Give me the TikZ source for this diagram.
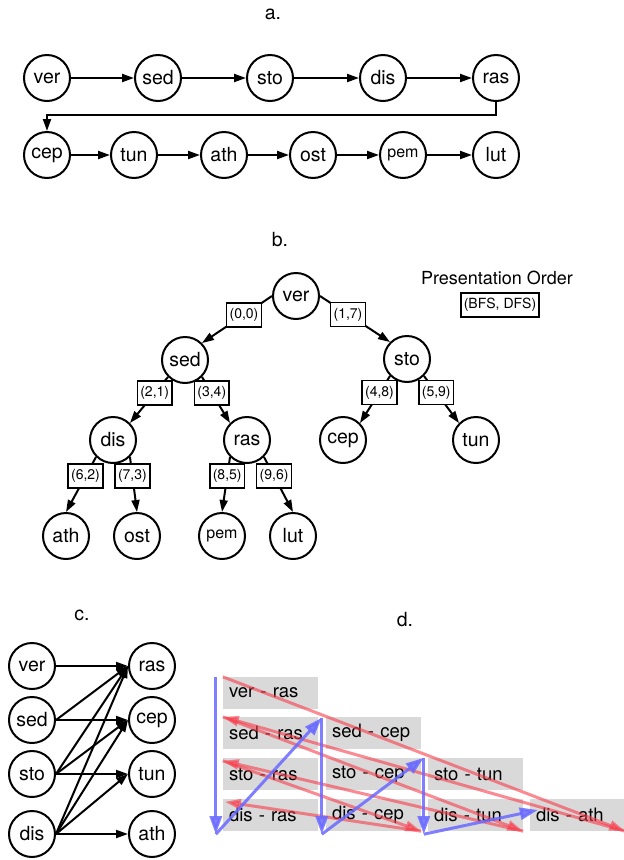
\documentclass[tikz,border=0pt]{standalone}
\usepackage{fontspec}
\setmainfont{TeX Gyre Heros}
\usepackage{xcolor}
\usepackage{tikz}
\usetikzlibrary{arrows.meta,calc}

\definecolor{pairgrey}{RGB}{217,217,217}
\definecolor{pathblue}{RGB}{105,105,255}
\definecolor{pathred}{RGB}{250,60,75}

\tikzset{
  word/.style={circle, draw, line width=2pt, minimum size=46pt, inner sep=0pt, font=\fontsize{19.5}{19.5}\selectfont},
  smallword/.style={word, font=\fontsize{16}{16}\selectfont},
  link/.style={line width=2pt, -{Triangle[length=12pt,width=8pt]}},
  order/.style={draw, fill=white, line width=1.5pt, inner xsep=3pt, inner ysep=0pt, minimum height=24pt, font=\fontsize{14}{14}\selectfont},
  pair/.style={fill=pairgrey, minimum height=32pt, text width=83pt, inner xsep=6pt, inner ysep=0pt, align=left, font=\fontsize{18.5}{18.5}\selectfont},
  title/.style={font=\fontsize{19.5}{19.5}\selectfont},
  bluepath/.style={color=pathblue, opacity=.85, line width=3pt, -{Triangle[length=18pt,width=12pt]}},
  redpath/.style={color=pathred, opacity=.6, line width=3pt, -{Triangle[length=16pt,width=10pt]}}
}

\begin{document}
\begin{tikzpicture}[x=1pt, y=-1pt]
\useasboundingbox (0,0) rectangle (624,860);

% a.
\node[title] (ta) at (273,14) {a.};
\node[word] (aver) at (47,78) {ver};
\node[word] (ased) at (158,78) {sed};
\node[word] (asto) at (270,78) {sto};
\node[word] (adis) at (383,78) {dis};
\node[word] (aras) at (496,78) {ras};
\node[word] (acep) at (47,155) {cep};
\node[word] (atun) at (134,155) {tun};
\node[word] (aath) at (224,155) {ath};
\node[word] (aost) at (313,155) {ost};
\node[smallword] (apem) at (403,155) {pem};
\node[word] (alut) at (496,155) {lut};

\draw[link] (aver) -- (ased);
\draw[link] (ased) -- (asto);
\draw[link] (asto) -- (adis);
\draw[link] (adis) -- (aras);
\draw[link] (aras.south) -- ++(0,13) -| (acep.north);
\draw[link] (acep) -- (atun);
\draw[link] (atun) -- (aath);
\draw[link] (aath) -- (aost);
\draw[link] (aost) -- (apem);
\draw[link] (apem) -- (alut);

% b.
\node[title] (tb) at (280,240) {b.};
\node[font=\fontsize{18}{18}\selectfont] (keyname) at (497,278) {Presentation Order};
\node[order, font=\fontsize{14}{14}\selectfont] (key) at (500,305) {(BFS, DFS)};

\node[word] (bver) at (296,296) {ver};
\node[word] (bsed) at (185,360) {sed};
\node[word] (bsto) at (407,359) {sto};
\node[word] (bdis) at (113,440) {dis};
\node[word] (bras) at (247,440) {ras};
\node[word] (bcep) at (343,440) {cep};
\node[word] (btun) at (476,440) {tun};
\node[word] (bath) at (66,536) {ath};
\node[word] (bost) at (137,536) {ost};
\node[smallword] (bpem) at (222,536) {pem};
\node[word] (blut) at (293,536) {lut};

\draw[link] (bver.west) -- node[order, pos=.4] {(0,0)} (bsed.north east);
\draw[link] (bver.east) -- node[order, pos=.4] {(1,7)} (bsto.north west);
\draw[link] (bsed.south west) -- node[order, pos=.35] {(2,1)} (bdis.north east);
\draw[link] (bsed.south east) -- node[order, pos=.35] {(3,4)} (bras.north west);
\draw[link] (bsto.south west) -- node[order, pos=.35] {(4,8)} (bcep.north east);
\draw[link] (bsto.south east) -- node[order, pos=.35] {(5,9)} (btun.north west);
\draw[link] (bdis.south west) -- node[order, pos=.35] {(6,2)} (bath.north);
\draw[link] (bdis.south east) -- node[order, pos=.35] {(7,3)} (bost.north);
\draw[link] (bras.south west) -- node[order, pos=.35] {(8,5)} (bpem.north);
\draw[link] (bras.south east) -- node[order, pos=.35] {(9,6)} (blut.north);

% c.
\node[title] (tc) at (82,615) {c.};
\node[word] (cver) at (32,666) {ver};
\node[word] (csed) at (32,720) {sed};
\node[word] (csto) at (32,774) {sto};
\node[word] (cdis) at (32,834) {dis};
\node[word] (cras) at (152,666) {ras};
\node[word] (ccep) at (152,720) {cep};
\node[word] (ctun) at (152,774) {tun};
\node[word] (cath) at (152,834) {ath};

\draw[link] (cver.east) -- (cras.west);
\draw[link] (csed.east) -- (cras.west);
\draw[link] (csed.east) -- (ccep.west);
\draw[link] (csto.east) -- (cras.west);
\draw[link] (csto.east) -- (ccep.west);
\draw[link] (csto.east) -- (ctun.west);
\draw[link] (cdis.east) -- (cras.west);
\draw[link] (cdis.east) -- (ccep.west);
\draw[link] (cdis.east) -- (ctun.west);
\draw[link] (cdis.east) -- (cath.west);

% d.
\node[title] (td) at (405,620) {d.};
\node[pair] (vr) at (270.5,693) {ver - ras};
\node[pair] (sr) at (270.5,733) {sed - ras};
\node[pair] (sc) at (373.5,733) {sed - cep};
\node[pair] (tr) at (270.5,774) {sto - ras};
\node[pair] (tcp) at (373.5,774) {sto - cep};
\node[pair] (tt) at (475.5,774) {sto - tun};
\node[pair] (dr) at (270.5,815) {dis - ras};
\node[pair] (dc) at (373.5,815) {dis - cep};
\node[pair] (dt) at (475.5,815) {dis - tun};
\node[pair] (da) at (577.5,815) {dis - ath};

\draw[redpath] (vr.north west) -- (da.south east);
\draw[redpath] (da.south east) -- (sr.north west);
\draw[redpath] (sr.north west) -- (dt.south east);
\draw[redpath] (dt.south east) -- ($(tr.north west)+(0,3)$);
\draw[redpath] ($(tr.north west)+(0,3)$) -- (dc.south east);
\draw[redpath] (dc.south east) -- ($(dr.north west)+(2,3)$);

\coordinate (top1) at ($(vr.north west)+(-7,0)$);
\coordinate (bot1) at ($(dr.south west)+(-7,3)$);
\coordinate (top2) at ($(sc.north west)+(-4,1)$);
\coordinate (bot2) at ($(dc.south west)+(-4,3)$);
\coordinate (top3) at ($(tt.north west)+(-4,0)$);
\coordinate (bot3) at ($(dt.south west)+(-4,3)$);

\draw[bluepath] (top1) -- (bot1);
\draw[bluepath] (bot1) -- (top2);
\draw[bluepath] (top2) -- (bot2);
\draw[bluepath] (bot2) -- (top3);
\draw[bluepath] (top3) -- (bot3);
\draw[bluepath] (bot3) -- ($(da.west)+(8,-5)$);

\end{tikzpicture}
\end{document}
